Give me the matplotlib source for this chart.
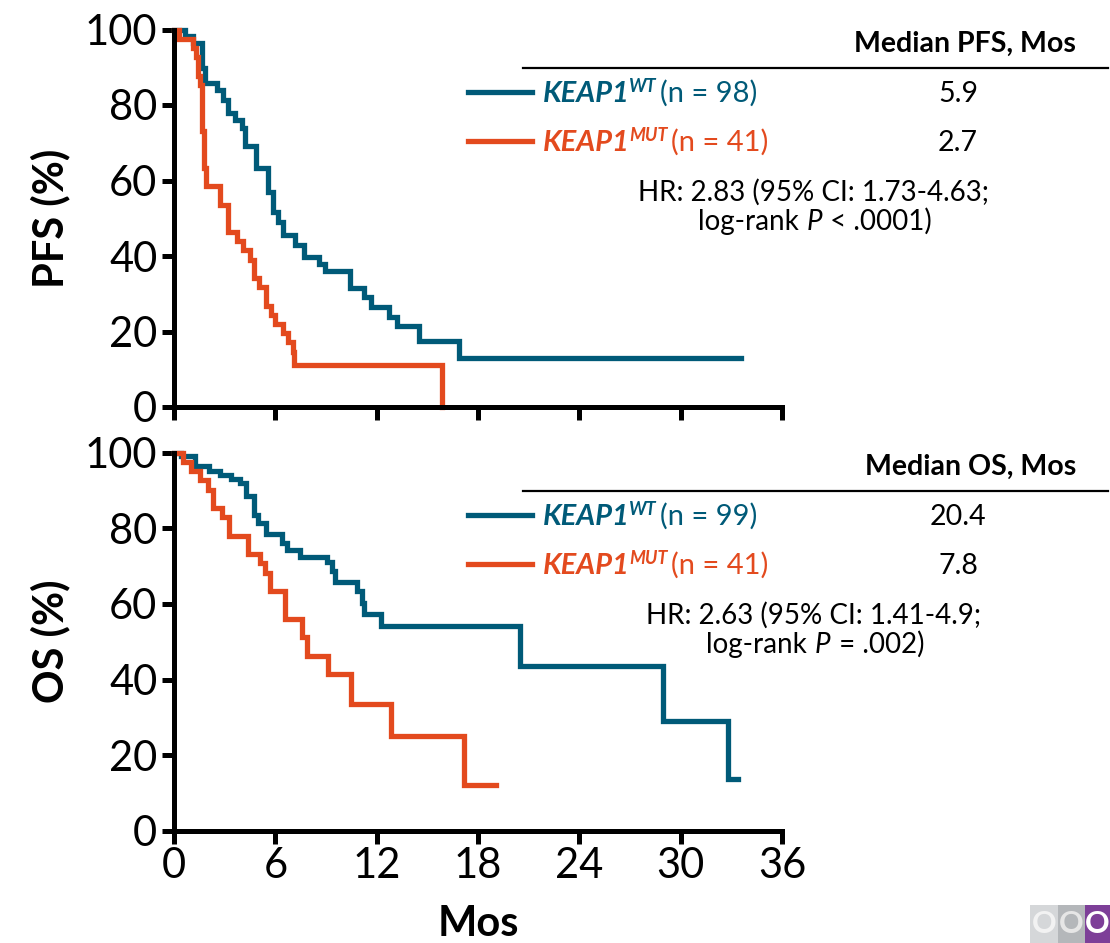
import numpy as np
import matplotlib
matplotlib.use('Agg')
from matplotlib import pyplot as plt
from matplotlib.patches import Rectangle

plt.rcParams['font.family'] = ['Lato', 'DejaVu Sans']

BLUE = '#005A78'
ORANGE = '#E34A1E'

# --- data (months, % surviving) ---
pfs_wt_t = [0, 0.65, 1.14, 1.64, 1.83, 2.56, 2.92, 3.21, 3.61, 4.0, 4.2, 4.85, 5.58, 5.84, 6.17, 6.43,
            7.16, 7.69, 8.6, 8.93, 10.41, 11.24, 11.64, 12.74, 13.2, 14.5, 16.9, 33.6]
pfs_wt_s = [100, 98.3, 96.3, 89.7, 85.9, 84.0, 81.3, 78.0, 76.0, 73.8, 69.1, 63.2, 57.0, 51.7, 49.1, 45.6,
            42.9, 39.8, 37.9, 36.1, 31.4, 29.2, 26.6, 23.9, 21.5, 17.6, 12.9, 12.9]

pfs_mut_t = [0, 0.3, 1.1, 1.3, 1.45, 1.55, 1.64, 1.78, 1.89, 2.72, 3.21, 3.75, 4.1, 4.5, 4.73, 5.05,
             5.44, 5.72, 5.97, 6.47, 6.77, 7.02, 7.1, 15.84]
pfs_mut_s = [100, 97.6, 95.1, 92.7, 87.8, 85.4, 73.2, 63.4, 58.5, 53.6, 46.3, 43.9, 41.5, 39.0, 34.1, 31.7,
             26.8, 24.4, 22.0, 19.5, 17.1, 14.6, 11.0, 0]

os_wt_t = [0, 0.4, 1.24, 2.09, 2.72, 3.35, 3.9, 4.26, 4.73, 4.99, 5.44, 6.37, 6.67, 7.46, 9.04, 9.33,
           9.53, 10.81, 11.11, 11.24, 12.23, 20.5, 28.95, 32.8, 33.4]
os_wt_s = [100, 99.0, 96.6, 95.2, 94.1, 93.0, 91.9, 88.6, 83.6, 81.3, 78.5, 76.1, 74.3, 72.5, 71.0, 68.8,
           65.9, 63.5, 60.2, 57.3, 54.2, 43.6, 29.0, 13.6, 13.6]

os_mut_t = [0, 0.55, 0.99, 1.54, 2.03, 2.33, 2.82, 3.27, 4.4, 5.09, 5.38, 5.68, 6.57, 7.56, 7.85, 9.13,
            10.5, 12.87, 17.16, 19.05]
os_mut_s = [100, 97.6, 95.1, 92.7, 90.2, 85.4, 82.9, 78.0, 73.2, 70.7, 68.3, 63.4, 56.1, 51.2, 46.3, 41.5,
            33.4, 25.0, 12.0, 12.0]

x_ticks = [0, 6, 12, 18, 24, 30, 36]
y_ticks = [0, 20, 40, 60, 80, 100]

panels = [
    {'ylabel': 'PFS (%)', 'wt': (pfs_wt_t, pfs_wt_s), 'mut': (pfs_mut_t, pfs_mut_s),
     'head': 'Median PFS, Mos', 'n_wt': 'n = 98', 'n_mut': 'n = 41', 'med_wt': '5.9', 'med_mut': '2.7',
     'hr1': 'HR: 2.83 (95% CI: 1.73-4.63;', 'hr2': ('log-rank ', 'P', ' < .0001)')},
    {'ylabel': 'OS (%)', 'wt': (os_wt_t, os_wt_s), 'mut': (os_mut_t, os_mut_s),
     'head': 'Median OS, Mos', 'n_wt': 'n = 99', 'n_mut': 'n = 41', 'med_wt': '20.4', 'med_mut': '7.8',
     'hr1': 'HR: 2.63 (95% CI: 1.41-4.9;', 'hr2': ('log-rank ', 'P', ' = .002)')},
]

W, H = 1110, 943
fig = plt.figure(figsize=(W / 100, H / 100), dpi=100)


def fx(px):
    return px / W


def fy(py):
    return 1 - py / H


def draw_label(x, y, color, sup, n, fs=21):
    t1 = fig.text(fx(x), fy(y), 'KEAP1', color=color, fontsize=fs, fontweight='bold',
                  fontstyle='italic', va='baseline', ha='left')
    t2 = fig.text(0, 0, sup, color=color, fontsize=fs * 0.62, fontweight='bold', fontstyle='italic')
    t3 = fig.text(0, 0, '(' + n + ')', color=color, fontsize=fs)
    return t1, t2, t3


axes_box = [(29.5, 407), (452.7, 830.7)]
left_px, right_px = 174, 782
label_items = []

for i, (p, (top_px, bot_px)) in enumerate(zip(panels, axes_box)):
    ax = fig.add_axes([fx(left_px), fy(bot_px), fx(right_px - left_px), (bot_px - top_px) / H])
    ax.step(*p['wt'], where='post', color=BLUE, lw=3.8, clip_on=False, solid_joinstyle='miter')
    ax.step(*p['mut'], where='post', color=ORANGE, lw=3.8, clip_on=False, solid_joinstyle='miter')
    ax.set_xlim(0, 36)
    ax.set_ylim(0, 100)
    ax.set_xticks(x_ticks)
    ax.set_yticks(y_ticks)
    for side in ('top', 'right'):
        ax.spines[side].set_visible(False)
    for side in ('left', 'bottom'):
        ax.spines[side].set_linewidth(3.6)
        ax.spines[side].set_capstyle('projecting')
    ax.tick_params(width=3.6, length=9, labelsize=30, pad=3, direction='out')
    if i == 0:
        ax.tick_params(axis='x', labelbottom=False)
    else:
        ax.set_xlabel('Mos', fontsize=30, fontweight='bold', labelpad=14)
    ax.set_ylabel(p['ylabel'], fontsize=30, fontweight='bold')
    ax.yaxis.set_label_coords(-0.17, 0.5)

    # legend / median table
    dy = 0 if i == 0 else 423
    fig.text(fx(1076), fy(52 + dy), p['head'], fontsize=20.5, fontweight='bold', ha='right', va='baseline')
    fig.add_artist(plt.Line2D([fx(523), fx(1108)], [fy(68 + dy), fy(68 + dy)], color='black', lw=1.6))
    for color, sup, n, med, yy in ((BLUE, 'WT', p['n_wt'], p['med_wt'], 102),
                                    (ORANGE, 'MUT', p['n_mut'], p['med_mut'], 151)):
        fig.add_artist(plt.Line2D([fx(468), fx(532)], [fy(yy - 10 + dy)] * 2, color=color, lw=3.8))
        label_items.append((draw_label(543, yy + dy, color, sup, n), ))
        fig.text(fx(958), fy(yy + dy), med, fontsize=20.5, ha='center', va='baseline')
    fig.text(fx(814), fy(201 + dy), p['hr1'], fontsize=20, ha='center', va='baseline')
    a, b, c = p['hr2']
    label_items.append((('hr2', 814, 230 + dy, a, b, c), ))

# place the chained label pieces after measuring text extents
fig.canvas.draw()
r = fig.canvas.get_renderer()
for (item,) in label_items:
    if item[0] == 'hr2':
        _, cx, cy, a, b, c = item
        ta = fig.text(0, fy(cy), a, fontsize=20, va='baseline')
        tb = fig.text(0, fy(cy), b, fontsize=20, fontstyle='italic', va='baseline')
        tc = fig.text(0, fy(cy), c, fontsize=20, va='baseline')
        ws = [t.get_window_extent(r).width for t in (ta, tb, tc)]
        x0 = cx - sum(ws) / 2
        for t, w in zip((ta, tb, tc), ws):
            t.set_x(fx(x0))
            x0 += w + 1
        continue
    t1, t2, t3 = item
    bb1 = t1.get_window_extent(r)
    base_y = t1.get_position()[1]
    t2.set_position((bb1.x1 / W - fx(1), base_y + 10 / H))
    t2.set_va('baseline')
    bb2 = t2.get_window_extent(r)
    t3.set_position((bb2.x1 / W + fx(4), base_y))
    t3.set_va('baseline')

# CCO logo blocks
for x0, w, col in ((1030, 28, '#D5D7D9'), (1058, 27, '#B4B7BA'), (1085, 25, '#7D3F98')):
    fig.add_artist(Rectangle((fx(x0), fy(943)), w / W, 38 / H, transform=fig.transFigure,
                             color=col, lw=0))
for x0, col in ((1044, '#F2F2F2'), (1071, '#E6E6E6'), (1097, 'white')):
    fig.text(fx(x0), fy(924), 'O', color=col, fontsize=22, ha='center', va='center', fontweight='bold')

fig.savefig('out.png', dpi=100)
